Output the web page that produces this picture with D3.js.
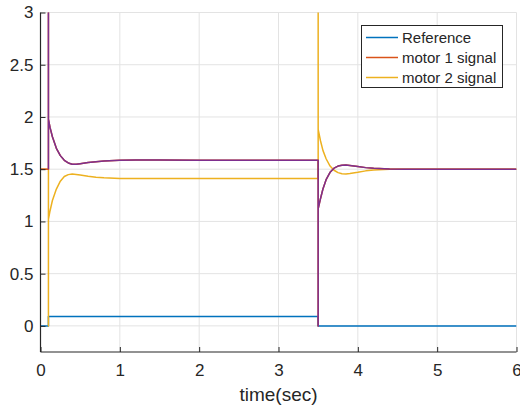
<!DOCTYPE html>
<html>
<head>
<meta charset="utf-8">
<script src="https://cdn.jsdelivr.net/npm/d3@7"></script>
<style>
  body { margin: 0; background: #fff; }
  text { font-family: "Liberation Sans", Arial, Helvetica, sans-serif; fill: #262626; }
</style>
</head>
<body>
<div id="chart"></div>
<script>
// tick values
var xTicks = [0, 1, 2, 3, 4, 5, 6];
var yTicks = [0, 0.5, 1, 1.5, 2, 2.5, 3];

// series as [time, value]
var reference = [[0, 0], [0.1, 0], [0.1, 0.09], [3.5, 0.09], [3.5, 0], [6, 0]];

var purple = [[0.1, 1.5], [0.1, 3.4], [0.1, 1.98], [0.12, 1.9], [0.15, 1.81], [0.2, 1.7], [0.25, 1.63],
  [0.3, 1.585], [0.35, 1.56], [0.4, 1.548], [0.45, 1.547], [0.5, 1.552], [0.6, 1.563], [0.7, 1.572],
  [0.8, 1.579], [1.0, 1.585], [1.2, 1.587], [1.5, 1.587], [2, 1.586], [3, 1.585], [3.5, 1.585],
  [3.5, 0], [3.5, 1.12], [3.53, 1.22], [3.56, 1.31], [3.6, 1.4], [3.65, 1.47], [3.7, 1.51],
  [3.75, 1.53], [3.8, 1.538], [3.85, 1.54], [3.9, 1.536], [4.0, 1.525], [4.1, 1.515],
  [4.2, 1.508], [4.4, 1.502], [4.6, 1.5], [6, 1.5]];

var motor1Start = [[0, 1.5], [0.1, 1.5]];
var motor1 = motor1Start.concat(purple);

var motor2 = [[0, 1.5], [0.1, 1.5], [0.1, 0], [0.1, 1.02], [0.12, 1.1], [0.15, 1.2], [0.2, 1.31],
  [0.25, 1.385], [0.3, 1.43], [0.35, 1.448], [0.4, 1.453], [0.45, 1.45], [0.5, 1.444], [0.6, 1.433],
  [0.7, 1.424], [0.8, 1.417], [1.0, 1.412], [1.2, 1.41], [3.5, 1.41], [3.5, 3.4], [3.5, 1.88],
  [3.53, 1.77], [3.56, 1.68], [3.6, 1.6], [3.65, 1.53], [3.7, 1.49], [3.75, 1.467], [3.8, 1.457],
  [3.85, 1.455], [3.9, 1.458], [4.0, 1.47], [4.1, 1.484], [4.2, 1.493], [4.4, 1.499], [4.6, 1.5], [6, 1.5]];

var legendNames = ["Reference", "motor 1 signal", "motor 2 signal"];
var legendColors = ["#0072BD", "#D95319", "#EDB120"];

var W = 520, H = 408;
var pLeft = 40.5, pRight = 516.5, pTop = 12.5, pBottom = 352;

var svg = d3.select("#chart").append("svg")
    .attr("width", W)
    .attr("height", H);

var x = d3.scaleLinear().domain([0, 6]).range([pLeft, pRight]);
var y = d3.scaleLinear().domain([-0.25, 3]).range([pBottom, pTop]);

// grid
svg.append("g").selectAll("line").data(xTicks).enter().append("line")
    .attr("x1", d => x(d)).attr("x2", d => x(d))
    .attr("y1", pTop).attr("y2", pBottom)
    .attr("stroke", "#e3e3e3").attr("stroke-width", 1);
svg.append("g").selectAll("line").data(yTicks).enter().append("line")
    .attr("x1", pLeft).attr("x2", pRight)
    .attr("y1", d => y(d)).attr("y2", d => y(d))
    .attr("stroke", "#e3e3e3").attr("stroke-width", 1);

// clip for lines
svg.append("clipPath").attr("id", "clip").append("rect")
    .attr("x", pLeft).attr("y", pTop).attr("width", pRight - pLeft).attr("height", pBottom - pTop);

var line = d3.line().x(d => x(d[0])).y(d => y(d[1]));
var plot = svg.append("g").attr("clip-path", "url(#clip)");

function drawSeries(data, color) {
  plot.append("path")
      .datum(data)
      .attr("d", line)
      .attr("fill", "none")
      .attr("stroke", color)
      .attr("stroke-width", 1.5)
      .attr("stroke-linejoin", "round");
}
drawSeries(reference, "#0072BD");
drawSeries(motor2, "#EDB120");
drawSeries(motor1, "#D95319");
drawSeries(purple, "#7E2F8E");

// axes
var xAxis = d3.axisBottom(x).tickValues(xTicks).tickSize(-5).tickPadding(12).tickFormat(d3.format("d"));
var yAxis = d3.axisLeft(y).tickValues(yTicks).tickSize(-5).tickPadding(7).tickFormat(d => d);

var gx = svg.append("g").attr("transform", "translate(0," + pBottom + ")").call(xAxis);
var gy = svg.append("g").attr("transform", "translate(" + pLeft + ",0)").call(yAxis);
[gx, gy].forEach(function (g) {
  g.select(".domain").attr("stroke", "#262626").attr("stroke-width", 1.2);
  g.selectAll(".tick line").attr("stroke", "#262626");
  g.selectAll(".tick text").style("font-size", "17px").attr("fill", "#262626")
      .style("font-family", "'Liberation Sans', Arial, sans-serif");
});
gy.select(".domain").attr("d", "M0," + pBottom + "V" + pTop);
gx.select(".domain").attr("d", "M" + pLeft + ",0H" + pRight);

svg.append("text")
    .attr("x", (pLeft + pRight) / 2)
    .attr("y", 401)
    .attr("text-anchor", "middle")
    .style("font-size", "19px")
    .text("time(sec)");

// legend
var lg = svg.append("g");
lg.append("rect")
    .attr("x", 361.5).attr("y", 25.5).attr("width", 141).attr("height", 62)
    .attr("fill", "#fff").attr("stroke", "#262626").attr("stroke-width", 1);
legendNames.forEach(function (name, i) {
  var yy = 37.5 + i * 20;
  lg.append("line")
      .attr("x1", 366).attr("x2", 398).attr("y1", yy).attr("y2", yy)
      .attr("stroke", legendColors[i]).attr("stroke-width", 1.5);
  lg.append("text")
      .attr("x", 402).attr("y", yy + 5)
      .style("font-size", "15px")
      .text(name);
});
</script>
</body>
</html>
